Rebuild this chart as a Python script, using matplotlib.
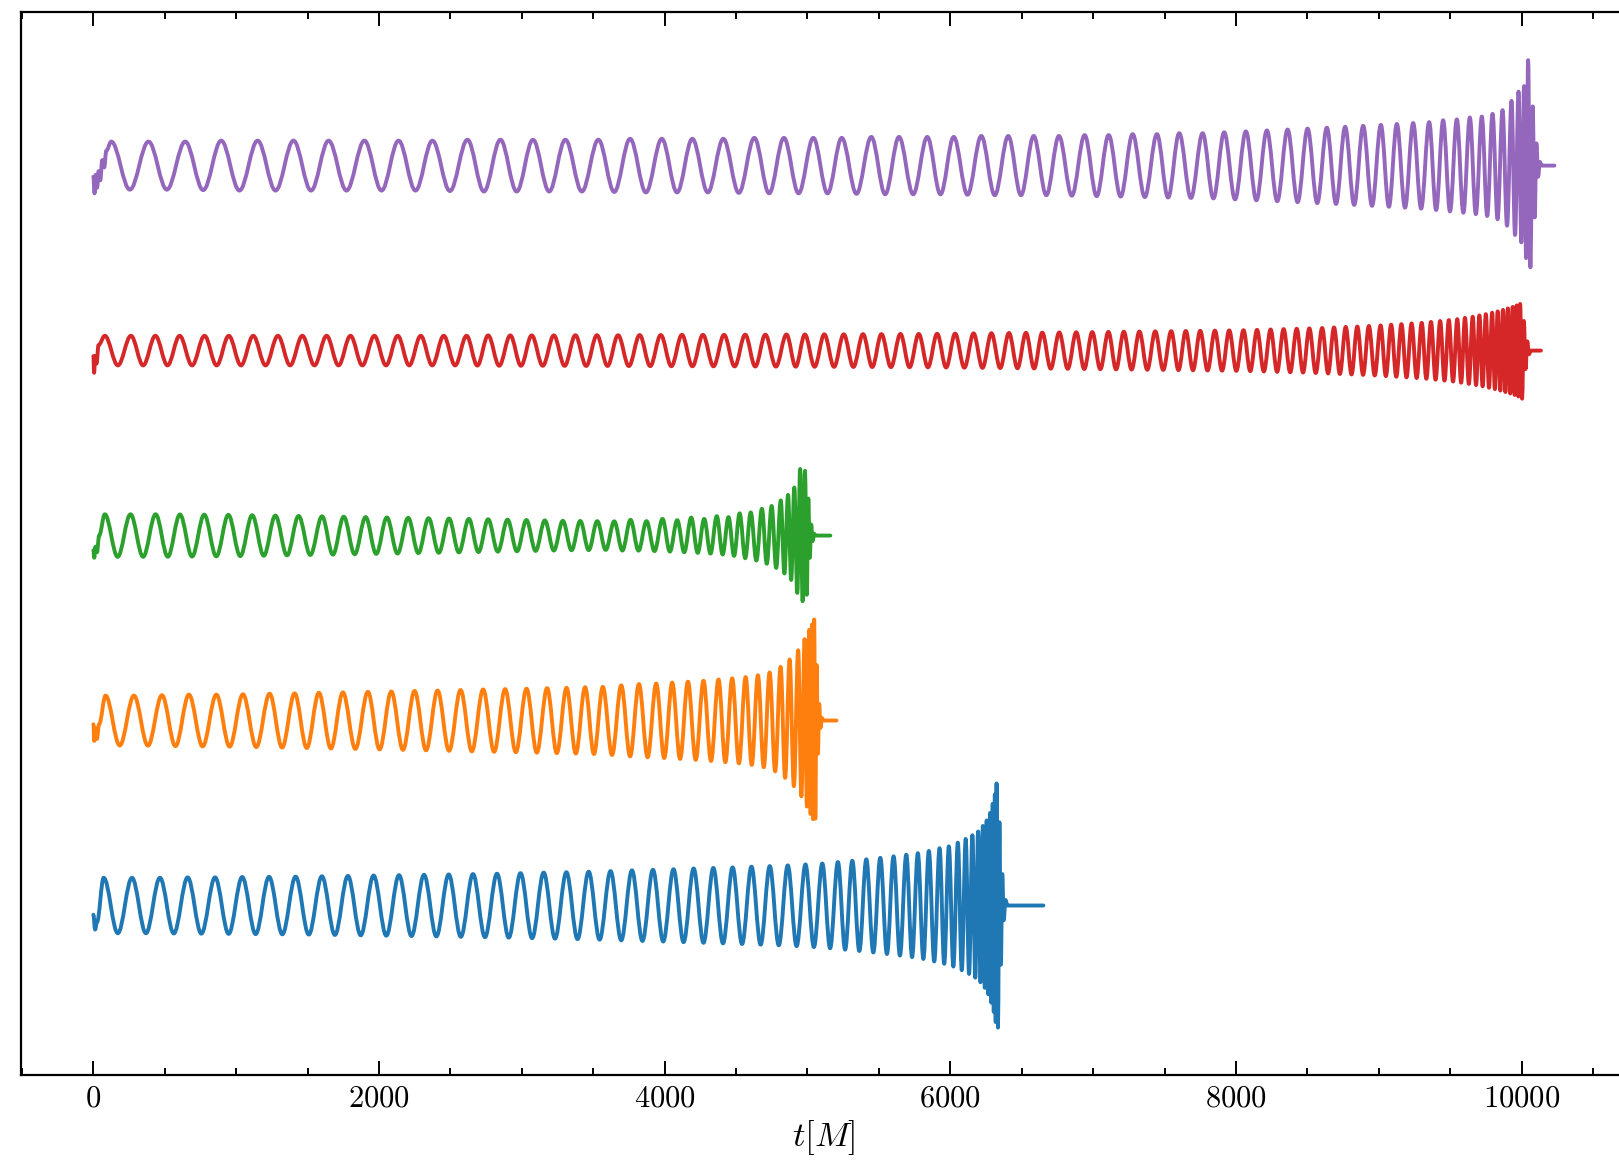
import numpy as np
import matplotlib.pyplot as plt
from matplotlib.path import Path
from matplotlib.patches import PathPatch
from matplotlib.ticker import MultipleLocator

plt.rcParams['font.family'] = 'serif'
plt.rcParams['font.serif'] = ['cmr10']
plt.rcParams['mathtext.fontset'] = 'cm'
plt.rcParams['axes.formatter.use_mathtext'] = True

# waveforms: (time of maximum, amplitude), offset per run
blue_start = [(0, -0.05), (12, -0.13), (25, -0.09)]
blue_peaks = [(72, .15), (270, .15), (466, .15), (660, .152), (852, .152), (1042, .154),
              (1230, .155), (1416, .156), (1600, .158), (1782, .16), (1962, .162), (2140, .164),
              (2315, .166), (2488, .168), (2658, .17), (2826, .172), (2991, .175), (3153, .178),
              (3312, .18), (3468, .183), (3621, .186), (3771, .19), (3918, .193), (4062, .196),
              (4203, .2), (4341, .203), (4476, .206), (4608, .21), (4736, .213), (4862, .217),
              (4986, .222), (5104, .227), (5213, .235), (5314, .242), (5412, .25), (5510, .258),
              (5603, .266), (5692, .275), (5773, .283), (5850, .295), (5925, .31), (5990, .32),
              (6053, .34), (6108, .36), (6155, .38), (6195, .40), (6228, .43), (6255, .46),
              (6278, .5), (6297, .55), (6312, .6), (6324, .66)]
blue_ring = [(6334, -.66), (6344, .45), (6354, -.32), (6364, .17), (6374, -.08), (6386, .03), (6400, 0.0)]
blue_end = 6652

orange_start = [(0, -0.02), (6, -0.11), (14, -0.04), (24, -0.1), (40, -0.02)]
orange_peaks = [(85, .135), (284, .135), (480, .137), (669, .14), (861, .14), (1047, .142),
                (1234, .145), (1409, .147), (1579, .15), (1747, .152), (1922, .155), (2086, .157),
                (2249, .16), (2410, .162), (2571, .165), (2729, .168), (2883, .17), (3033, .172),
                (3177, .175), (3313, .177), (3443, .18), (3567, .182), (3696, .19), (3820, .197),
                (3941, .2), (4053, .205), (4163, .21), (4272, .215), (4377, .222), (4473, .228),
                (4567, .235), (4653, .245), (4735, .26), (4812, .29), (4875, .33), (4935, .38),
                (4980, .44), (5012, .49), (5032, .52), (5047, .546)]
orange_ring = [(5055, -.53), (5064, .3), (5073, -.18), (5082, .09), (5091, -.04), (5100, .015), (5110, 0.0)]
orange_end = 5203

green_start = [(0, -0.08), (6, -0.12), (14, -0.06), (25, -0.09), (40, 0.0)]
green_peaks = [(80, .115), (260, .115), (436, .115), (606, .114), (776, .113), (945, .112),
               (1112, .11), (1274, .108), (1437, .106), (1601, .104), (1753, .102), (1906, .1),
               (2055, .098), (2204, .096), (2347, .094), (2490, .092), (2629, .09), (2764, .088),
               (2900, .086), (3032, .084), (3161, .082), (3287, .08), (3409, .079), (3528, .078),
               (3647, .077), (3761, .085), (3873, .078), (3985, .09), (4088, .083), (4186, .097),
               (4277, .09), (4365, .105), (4447, .1), (4525, .12), (4603, .125), (4681, .145),
               (4749, .16), (4813, .19), (4864, .22), (4908, .26), (4949, .36), (4983, .35)]
green_ring = [(4995, -.32), (5006, .2), (5016, -.12), (5026, .06), (5036, -.03), (5046, .01), (5056, 0.0)]
green_end = 5160

red_start = [(0, -0.03), (5, -0.12), (12, -0.03), (22, -0.07), (36, 0.03)]
red_peaks = [(80, .08), (263, .08), (434, .08), (604, .08), (778, .08), (948, .08),
             (1119, .08), (1292, .08), (1463, .08), (1633, .08), (1800, .08), (1967, .08),
             (2131, .08), (2292, .08), (2453, .08), (2613, .08), (2764, .082), (2919, .082),
             (3069, .082), (3224, .082), (3375, .083), (3526, .083), (3674, .083), (3825, .084),
             (3973, .084), (4121, .085), (4268, .085), (4416, .085), (4564, .086), (4705, .086),
             (4853, .087), (4982, .087), (5118, .088), (5254, .088), (5389, .089), (5518, .089),
             (5651, .09), (5779, .09), (5908, .091), (6034, .092), (6163, .093), (6288, .094),
             (6411, .095), (6530, .096), (6644, .097), (6763, .098), (6882, .099), (6994, .1),
             (7107, .101), (7215, .102), (7324, .103), (7435, .104), (7547, .105), (7649, .106),
             (7750, .107), (7853, .108), (7953, .109), (8053, .11), (8148, .112), (8243, .114),
             (8334, .116), (8426, .118), (8514, .12), (8604, .122), (8687, .125), (8769, .128),
             (8850, .13), (8931, .133), (9013, .136), (9087, .14), (9159, .143), (9230, .147),
             (9301, .15), (9366, .155), (9430, .16), (9491, .165), (9550, .17), (9604, .177),
             (9658, .183), (9705, .19), (9750, .197), (9794, .205), (9833, .212), (9870, .22),
             (9904, .228), (9938, .236), (9966, .244), (9990, .252)]
red_ring = [(10004, -.26), (10016, .16), (10028, -.1), (10040, .05), (10052, -.02), (10064, 0.0)]
red_end = 10136

purple_start = [(0, -0.06), (8, -0.15), (16, -0.05), (26, -0.12), (36, -0.03), (48, -0.08),
                (62, 0.03), (76, -0.01), (90, 0.08)]
purple_peaks = [(125, .13), (386, .13), (643, .13), (895, .135), (1150, .135), (1401, .135),
                (1647, .135), (1898, .135), (2137, .135), (2374, .135), (2619, .14), (2850, .14),
                (3078, .14), (3305, .14), (3536, .14), (3758, .145), (3980, .145), (4194, .145),
                (4411, .145), (4628, .15), (4835, .15), (5041, .15), (5240, .15), (5447, .155),
                (5641, .155), (5839, .155), (6024, .155), (6217, .16), (6406, .16), (6584, .16),
                (6761, .16), (6941, .165), (7109, .165), (7277, .17), (7447, .17), (7603, .175),
                (7767, .175), (7918, .18), (8070, .185), (8217, .19), (8362, .195), (8502, .2),
                (8637, .205), (8765, .21), (8891, .215), (9015, .22), (9127, .225), (9241, .23),
                (9353, .235), (9451, .245), (9547, .25), (9638, .26), (9722, .265), (9797, .28),
                (9867, .3), (9930, .35), (9979, .4), (10018, .43), (10046, .57)]
purple_ring = [(10062, -.55), (10078, .32), (10092, -.28), (10104, .12), (10116, -.06), (10128, .02), (10140, 0.0)]
purple_end = 10230

runs = [
    (blue_start, blue_peaks, blue_ring, blue_end, 0, '#1f77b4'),
    (orange_start, orange_peaks, orange_ring, orange_end, 1, '#ff7f0e'),
    (green_start, green_peaks, green_ring, green_end, 2, '#2ca02c'),
    (red_start, red_peaks, red_ring, red_end, 3, '#d62728'),
    (purple_start, purple_peaks, purple_ring, purple_end, 4, '#9467bd'),
]


def wave_path(start, peaks, ring, t_end, off):
    # list of extrema; minima sit halfway between maxima
    ext = list(start)
    for i, (t, a) in enumerate(peaks):
        if i > 0:
            tp, ap = peaks[i - 1]
            ext.append(((tp + t) / 2, -(ap + a) / 2))
        ext.append((t, a))
    ext += ring
    ext.append((t_end, 0.0))
    verts = [(ext[0][0], ext[0][1] + off)]
    codes = [Path.MOVETO]
    for (t0, y0), (t1, y1) in zip(ext[:-1], ext[1:]):
        d = 0.363 * (t1 - t0)  # bezier handles ~ half a sine wave
        verts += [(t0 + d, y0 + off), (t1 - d, y1 + off), (t1, y1 + off)]
        codes += [Path.CURVE4] * 3
    return Path(verts, codes)


fig = plt.figure(figsize=(16.19, 11.63), dpi=100)
ax = fig.add_axes([0.0127, 0.0757, 0.9915, 0.9136])

for start, peaks, ring, t_end, off, c in runs:
    ax.add_patch(PathPatch(wave_path(start, peaks, ring, t_end, off), fill=False,
                           edgecolor=c, lw=2.8, joinstyle='round', capstyle='round'))

ax.set_xlim(-510, 10730)
ax.set_ylim(-0.916, 4.828)
ax.set_xticks([0, 2000, 4000, 6000, 8000, 10000])
ax.xaxis.set_minor_locator(MultipleLocator(500))
ax.set_yticks([])
ax.tick_params(which='both', direction='in', top=True, bottom=True, width=1.4, labelsize=22, pad=7)
ax.tick_params(which='major', length=10)
ax.tick_params(which='minor', length=5)
for s in ax.spines.values():
    s.set_linewidth(1.6)
ax.set_xlabel(r'$t[M]$', fontsize=25, labelpad=4)

fig.savefig('out.png', dpi=100)
